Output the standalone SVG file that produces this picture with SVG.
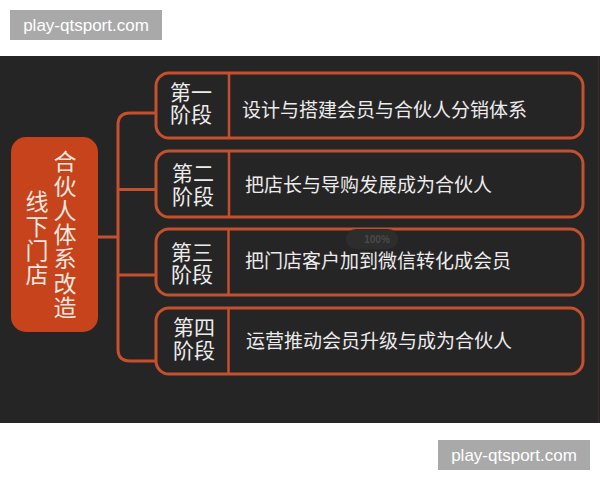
<svg xmlns="http://www.w3.org/2000/svg" width="600" height="480" viewBox="0 0 600 480">
<defs>
<style>
.wm{fill:#a9a9a9}
.wmt{font-family:"Liberation Sans","DejaVu Sans",sans-serif;font-size:17px;fill:#ffffff;text-anchor:middle}
.box{fill:none;stroke:#c4502d;stroke-width:3}
.div{stroke:#c4502d;stroke-width:2.5}
.conn{fill:none;stroke:#c4502d;stroke-width:3}
.lab{font-family:"Noto Sans CJK SC","Noto Sans",sans-serif;font-size:21px;fill:#ececec;text-anchor:middle}
.desc{font-family:"Noto Sans CJK SC","Noto Sans",sans-serif;font-size:19px;fill:#ececec}
.root{font-family:"Noto Sans CJK SC","Noto Sans",sans-serif;font-size:23px;fill:#f3e6df;writing-mode:vertical-rl;letter-spacing:1.3px}
</style>
</defs>
<rect width="600" height="480" fill="#ffffff"/>
<rect x="0" y="56" width="600" height="367" fill="#262525"/>
<line x1="598.5" y1="56" x2="598.5" y2="423" stroke="#3a2c28" stroke-width="1"/>
<g id="wm-top">
<rect class="wm" x="10" y="10" width="152" height="30"/>
<text class="wmt" x="86" y="31">play-qtsport.com</text>
</g>
<g id="wm-bottom">
<rect class="wm" x="438" y="440" width="152" height="30"/>
<text class="wmt" x="514" y="461">play-qtsport.com</text>
</g>
<g id="connectors">
<path class="conn" d="M98,237 H118"/>
<path class="conn" d="M156,113 H130 Q118,113 118,125 V349 Q118,361 130,361 H156"/>
<path class="conn" d="M118,189.5 H156"/>
<path class="conn" d="M118,275 H156"/>
</g>
<g id="root">
<rect x="11" y="137" width="87" height="195" rx="15" fill="#c6431b"/>
<text class="root" x="65" y="150">合伙人体系改造</text>
<text class="root" x="37" y="190">线下门店</text>
</g>
<g id="stage1">
<rect class="box" x="156" y="73" width="427" height="65" rx="13"/>
<line class="div" x1="229" y1="73" x2="229" y2="138"/>
<text class="lab"><tspan x="191" y="100">第一</tspan><tspan x="191" y="122">阶段</tspan></text>
<text class="desc" x="242" y="117">设计与搭建会员与合伙人分销体系</text>
</g>
<g id="stage2">
<rect class="box" x="156" y="151" width="427" height="66" rx="13"/>
<line class="div" x1="229" y1="151" x2="229" y2="217"/>
<text class="lab"><tspan x="193" y="181">第二</tspan><tspan x="193" y="204">阶段</tspan></text>
<text class="desc" x="245" y="192">把店长与导购发展成为合伙人</text>
</g>
<g id="stage3">
<rect class="box" x="156" y="229" width="427" height="66" rx="13"/>
<line class="div" x1="228.5" y1="229" x2="228.5" y2="295"/>
<text class="lab"><tspan x="192" y="260">第三</tspan><tspan x="192" y="282">阶段</tspan></text>
<text class="desc" x="245" y="268">把门店客户加到微信转化成会员</text>
</g>
<g id="stage4">
<rect class="box" x="156" y="308" width="427" height="66" rx="13"/>
<line class="div" x1="228.5" y1="308" x2="228.5" y2="374"/>
<text class="lab"><tspan x="194" y="335">第四</tspan><tspan x="194" y="358">阶段</tspan></text>
<text class="desc" x="246" y="348">运营推动会员升级与成为合伙人</text>
</g>
<g id="zoom-badge">
<rect x="346" y="229" width="52" height="20" rx="10" fill="#2d2d2d"/>
<text x="377" y="243" font-family="Liberation Sans, sans-serif" font-size="10" font-weight="bold" fill="#4a4a4a" text-anchor="middle">100%</text>
</g>
</svg>
